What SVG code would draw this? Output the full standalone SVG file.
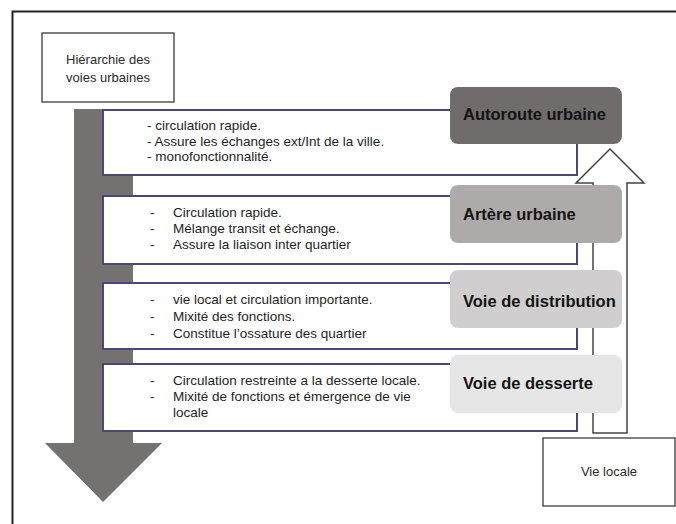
<svg xmlns="http://www.w3.org/2000/svg" width="676" height="524" viewBox="0 0 676 524">
<style>
.frame{stroke:#222;stroke-width:2;fill:none}
.box{fill:#fff;stroke:#3a3a3a;stroke-width:1.3}
.tbox{fill:#fff;stroke:#4b4678;stroke-width:2}
.body{font-family:"Liberation Sans",Arial,sans-serif;font-size:13.5px;fill:#1e1e1e}
.small{font-family:"Liberation Sans",Arial,sans-serif;font-size:13px;fill:#2a2a2a}
.lbl{font-family:"Liberation Sans",Arial,sans-serif;font-size:16.5px;font-weight:bold;fill:#141414}
</style>
<rect width="676" height="524" fill="#fff"/>
<g id="frame">
<path class="frame" d="M12.5 524 V11.5 H676"/>
</g>
<g id="connectors">
<path id="down-arrow" d="M74 109 H133 V443 H162 L103 502 L45 443 H74 Z" fill="#767171"/>
<path id="up-arrow" d="M593 433 V183 H576 L610 149 L644 183 H627 V433 Z" fill="#fff" stroke="#444" stroke-width="1.5"/>
</g>
<g id="hierarchie">
<rect class="box" x="42" y="33" width="132" height="69"/>
<text class="small" x="108" y="64" text-anchor="middle">Hiérarchie des</text>
<text class="small" x="108" y="82" text-anchor="middle">voies urbaines</text>
</g>
<g id="box1">
<rect class="tbox" x="103" y="110" width="474" height="65"/>
<text class="body" x="147" y="130">- circulation rapide.</text>
<text class="body" x="147" y="145.5">- Assure les échanges ext/Int de la ville.</text>
<text class="body" x="147" y="161">- monofonctionnalité.</text>
</g>
<g id="box2">
<rect class="tbox" x="103" y="196" width="474" height="68"/>
<text class="body" x="150" y="217">-</text><text class="body" x="173" y="217">Circulation rapide.</text>
<text class="body" x="150" y="233">-</text><text class="body" x="173" y="233">Mélange transit et échange.</text>
<text class="body" x="150" y="249">-</text><text class="body" x="173" y="249">Assure la liaison inter quartier</text>
</g>
<g id="box3">
<rect class="tbox" x="103" y="283" width="474" height="66"/>
<text class="body" x="150" y="304">-</text><text class="body" x="173" y="304">vie local et circulation importante.</text>
<text class="body" x="150" y="321">-</text><text class="body" x="173" y="321">Mixité des fonctions.</text>
<text class="body" x="150" y="338">-</text><text class="body" x="173" y="338">Constitue l’ossature des quartier</text>
</g>
<g id="box4">
<rect class="tbox" x="103" y="364" width="474" height="67"/>
<text class="body" x="150" y="385">-</text><text class="body" x="173" y="385">Circulation restreinte a la desserte locale.</text>
<text class="body" x="150" y="401">-</text><text class="body" x="173" y="401">Mixité de fonctions et émergence de vie</text>
<text class="body" x="173" y="417">locale</text>
</g>
<g id="autoroute">
<rect x="450" y="87" width="172" height="57" rx="8" fill="#706c6c"/>
<text class="lbl" x="463" y="120">Autoroute urbaine</text>
</g>
<g id="artere">
<rect x="450" y="185" width="172" height="58" rx="8" fill="#aeaaaa"/>
<text class="lbl" x="463" y="220">Artère urbaine</text>
</g>
<g id="distribution">
<rect x="450" y="270" width="172" height="58" rx="8" fill="#d0cece"/>
<text class="lbl" x="463" y="307">Voie de distribution</text>
</g>
<g id="desserte">
<rect x="450" y="355" width="172" height="58" rx="8" fill="#e7e6e6"/>
<text class="lbl" x="463" y="389">Voie de desserte</text>
</g>
<g id="vie-locale">
<rect class="box" x="543" y="438" width="132" height="68"/>
<text class="small" x="609" y="476" text-anchor="middle">Vie locale</text>
</g>
</svg>
